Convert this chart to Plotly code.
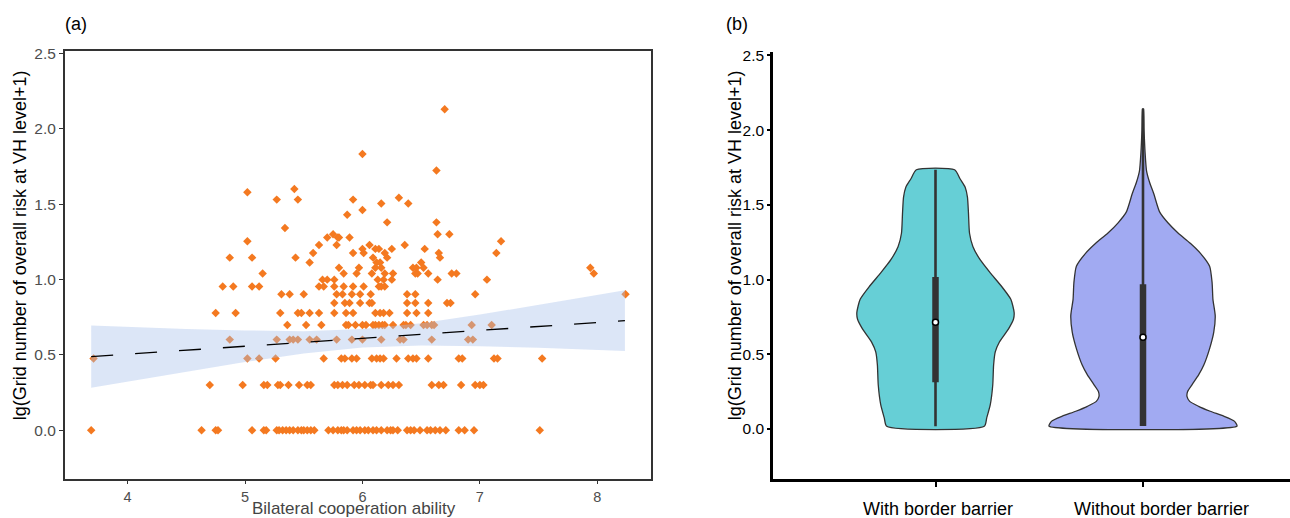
import plotly.graph_objects as go

# ---------------- Panel (a): scatter data (lg levels and abilities at each level)
risk_levels = [0.0, 0.301, 0.477, 0.602, 0.699, 0.778, 0.845, 0.903, 0.954, 1.0,
               1.041, 1.079, 1.114, 1.146, 1.176, 1.204, 1.230, 1.255, 1.279, 1.301,
               1.342, 1.380, 1.431, 1.462, 1.505, 1.531, 1.544, 1.580, 1.602, 1.724,
               1.833, 2.130]
ability_at_level = [
    [3.69, 4.63, 4.75, 4.77, 5.06, 5.16, 5.18, 5.27, 5.29, 5.32, 5.35, 5.38, 5.41, 5.45,
     5.48, 5.50, 5.53, 5.56, 5.59, 5.71, 5.75, 5.79, 5.82, 5.84, 5.87, 5.92, 5.95, 5.98,
     6.02, 6.05, 6.09, 6.12, 6.16, 6.21, 6.24, 6.26, 6.30, 6.38, 6.41, 6.44, 6.49, 6.55,
     6.58, 6.62, 6.66, 6.71, 6.82, 6.87, 6.95, 7.51],
    [4.70, 4.98, 5.16, 5.19, 5.28, 5.30, 5.37, 5.46, 5.53, 5.56, 5.76, 5.79, 5.83, 5.87,
     5.93, 5.97, 6.02, 6.07, 6.09, 6.16, 6.22, 6.26, 6.31, 6.59, 6.65, 6.69, 6.84, 6.96,
     7.00, 7.03],
    [3.71, 5.02, 5.12, 5.26, 5.67, 5.82, 5.85, 5.91, 5.95, 6.08, 6.12, 6.15, 6.18, 6.29,
     6.39, 6.43, 6.46, 6.56, 6.82, 6.85, 7.12, 7.15, 7.53],
    [4.87, 5.27, 5.38, 5.41, 5.45, 5.55, 5.61, 5.78, 5.91, 6.00, 6.16, 6.32, 6.35, 6.59,
     6.90, 6.94],
    [5.36, 5.52, 5.65, 5.86, 5.88, 5.94, 6.00, 6.03, 6.09, 6.11, 6.14, 6.17, 6.19, 6.26,
     6.35, 6.37, 6.41, 6.52, 6.55, 6.59, 6.61, 6.93, 7.10],
    [4.75, 4.92, 5.30, 5.45, 5.48, 5.55, 5.63, 5.76, 5.86, 5.92, 6.11, 6.15, 6.18, 6.23,
     6.38, 6.46, 6.56],
    [5.76, 5.85, 5.89, 5.98, 6.06, 6.08, 6.38, 6.45, 6.56, 6.72, 6.75],
    [5.31, 5.38, 5.50, 5.78, 5.83, 5.91, 5.98, 6.07, 6.38, 6.45, 6.96, 8.24],
    [4.81, 4.90, 5.06, 5.12, 5.63, 5.67, 5.76, 5.84, 5.92, 6.01, 6.14, 6.16, 6.19],
    [5.66, 5.70, 5.76, 6.13, 6.18, 6.25, 6.64, 7.06],
    [5.15, 5.84, 5.95, 6.08, 6.19, 6.26, 6.45, 6.47, 6.56, 6.76, 6.80, 7.97],
    [5.80, 5.97, 6.11, 6.16, 6.43, 6.46, 6.52, 7.94],
    [5.55, 6.12, 6.15, 6.50],
    [4.87, 5.06, 5.43, 6.09, 6.21, 6.66],
    [5.58, 5.92, 6.01, 6.19, 6.65, 7.14],
    [6.00, 6.11, 6.14, 6.25, 6.53],
    [5.63, 5.78, 6.06, 6.36],
    [5.02, 7.18],
    [5.70, 5.79, 5.80, 5.89],
    [5.75, 6.64, 6.74],
    [5.34],
    [6.21, 6.63],
    [5.87],
    [6.00],
    [6.16, 6.39],
    [5.27, 5.45, 5.92],
    [6.31],
    [5.02],
    [5.42],
    [6.63],
    [6.00],
    [6.70],
]

# Linear fit line and its confidence band
fit_x = [3.69, 8.235]
fit_y = [0.489, 0.728]
band_x = [3.69, 4.0, 4.5, 5.0, 5.5, 6.0, 6.5, 7.0, 7.5, 8.0, 8.235]
band_lo = [0.282, 0.323, 0.389, 0.453, 0.510, 0.550, 0.563, 0.558, 0.548, 0.534, 0.527]
band_hi = [0.696, 0.687, 0.673, 0.663, 0.658, 0.672, 0.711, 0.768, 0.832, 0.898, 0.929]

# ---------------- Panel (b): violin profiles (y, half width in category units)
groups = ["With border barrier", "Without border barrier"]
v1_y = [0.018, 0.075, 0.163, 0.296, 0.428, 0.516, 0.582, 0.670, 0.736, 0.780, 0.868,
        0.957, 1.045, 1.133, 1.222, 1.310, 1.442, 1.552, 1.618, 1.673, 1.735]
v1_w = [0.235, 0.247, 0.264, 0.276, 0.280, 0.288, 0.308, 0.352, 0.376, 0.379, 0.363,
        0.317, 0.264, 0.215, 0.180, 0.164, 0.159, 0.154, 0.143, 0.119, 0.092]
v2_y = [0.020, 0.053, 0.086, 0.119, 0.152, 0.185, 0.218, 0.251, 0.296, 0.362, 0.428,
        0.538, 0.648, 0.759, 0.868, 0.979, 1.089, 1.177, 1.243, 1.310, 1.380, 1.453,
        1.574, 1.650, 1.728, 1.850, 2.000, 2.143]
v2_w = [0.453, 0.440, 0.389, 0.324, 0.268, 0.225, 0.212, 0.215, 0.236, 0.268, 0.293,
        0.321, 0.341, 0.348, 0.337, 0.333, 0.321, 0.276, 0.228, 0.170, 0.120, 0.080,
        0.052, 0.032, 0.017, 0.010, 0.005, 0.0015]
box_q1 = [0.313, 0.020]
box_median = [0.714, 0.615]
box_q3 = [1.018, 0.968]
box_low = [0.018, 0.020]
box_high = [1.735, 2.143]
violin_colors = ["#66CFD6", "#A1AAF2"]

FONT = "Liberation Sans, Arial, sans-serif"
W, H = 1290, 518

fig = go.Figure()

# scatter points
pts_x, pts_y = [], []
for lvl, xs in zip(risk_levels, ability_at_level):
    for xv in xs:
        pts_x.append(xv)
        pts_y.append(lvl)
fig.add_trace(go.Scatter(x=pts_x, y=pts_y, mode="markers",
                         marker=dict(symbol="diamond", size=6.5, color="#F47920",
                                     line=dict(width=0)),
                         xaxis="x", yaxis="y", showlegend=False, hoverinfo="skip"))
# confidence band (drawn over points, semi transparent)
fig.add_trace(go.Scatter(x=band_x + band_x[::-1], y=band_hi + band_lo[::-1],
                         fill="toself", fillcolor="rgba(168,193,235,0.4)",
                         line=dict(width=0), mode="lines",
                         xaxis="x", yaxis="y", showlegend=False, hoverinfo="skip"))
fig.add_trace(go.Scatter(x=fit_x, y=fit_y, mode="lines",
                         line=dict(color="black", width=1.3, dash="22px,22px"),
                         xaxis="x", yaxis="y", showlegend=False, hoverinfo="skip"))

# violins with inner box plots
for i, (vy, vw) in enumerate([(v1_y, v1_w), (v2_y, v2_w)]):
    xs = [i - w for w in vw] + [i + w for w in vw[::-1]]
    ys = vy + vy[::-1]
    fig.add_trace(go.Scatter(x=xs + [xs[0]], y=ys + [ys[0]], mode="lines",
                             fill="toself", fillcolor=violin_colors[i],
                             line=dict(color="#333333", width=1.3, shape="spline",
                                       smoothing=0.6),
                             xaxis="x2", yaxis="y2", showlegend=False,
                             hoverinfo="skip"))
    # whisker
    fig.add_trace(go.Scatter(x=[i, i], y=[box_low[i], box_high[i]], mode="lines",
                             line=dict(color="#333333", width=2.6),
                             xaxis="x2", yaxis="y2", showlegend=False,
                             hoverinfo="skip"))
    # box (IQR)
    fig.add_trace(go.Scatter(x=[i, i], y=[box_q1[i], box_q3[i]], mode="lines",
                             line=dict(color="#333333", width=6.5),
                             xaxis="x2", yaxis="y2", showlegend=False,
                             hoverinfo="skip"))
fig.add_trace(go.Scatter(x=[0, 1], y=box_median, mode="markers",
                         marker=dict(symbol="circle", size=6, color="white",
                                     line=dict(color="black", width=1.5)),
                         xaxis="x2", yaxis="y2", showlegend=False, hoverinfo="skip"))

left_dom = [65 / W, 651 / W]
right_dom = [773 / W, 1.0]
ydom = [1 - 479 / H, 1 - 46 / H]
ydom2 = [1 - 479 / H, 1 - 46.5 / H]

fig.update_layout(
    width=W, height=H,
    margin=dict(l=0, r=0, t=0, b=0),
    paper_bgcolor="white", plot_bgcolor="white",
    font=dict(family=FONT, size=15.5, color="#4d4d4d"),
    showlegend=False,
    xaxis=dict(domain=left_dom, range=[3.467, 8.457], tickvals=[4, 5, 6, 7, 8],
               showgrid=False, zeroline=False, showline=True, mirror=True,
               linecolor="#333333", linewidth=2, ticks="outside", ticklen=3,
               tickwidth=1.2, tickcolor="#333333",
               tickfont=dict(family=FONT, size=14.5, color="#4d4d4d")),
    yaxis=dict(domain=ydom, range=[-0.326, 2.514], tickvals=[0, 0.5, 1, 1.5, 2, 2.5],
               ticktext=["0.0", "0.5", "1.0", "1.5", "2.0", "2.5"],
               showgrid=False, zeroline=False, showline=True, mirror=True,
               linecolor="#333333", linewidth=2, ticks="outside", ticklen=4,
               tickwidth=1.2, tickcolor="#333333",
               tickfont=dict(family=FONT, size=15.5, color="#4d4d4d")),
    xaxis2=dict(domain=right_dom, range=[-0.7831, 1.7084], tickvals=[0, 1],
                showticklabels=False, showgrid=False, zeroline=False, showline=True,
                linecolor="black", linewidth=2.5, ticks="outside", ticklen=5,
                tickwidth=2, tickcolor="black", anchor="y2"),
    yaxis2=dict(domain=ydom2, range=[-0.3373, 2.5231], tickvals=[0, 0.5, 1, 1.5, 2, 2.5],
                ticktext=["0.0", "0.5", "1.0", "1.5", "2.0", "2.5"],
                showgrid=False, zeroline=False, showline=True,
                linecolor="black", linewidth=2.5, ticks="outside", ticklen=3,
                tickwidth=2, tickcolor="black", anchor="x2",
                tickfont=dict(family=FONT, size=15.5, color="black")),
)

ytitle = "lg(Grid number of overall risk at VH level+1)"


def ann(text, x, y, xref="paper", size=18, color="black", angle=0, xshift=0):
    return dict(text=text, x=x, y=y, xref=xref, yref="paper", showarrow=False,
                xanchor="center", yanchor="middle", textangle=angle, xshift=xshift,
                font=dict(family=FONT, size=size, color=color))


annotations = [
    ann("(a)", 76 / W, 1 - 18 / H),
    ann("(b)", 737 / W, 1 - 18 / H),
    ann(ytitle, 20 / W, 1 - 242 / H, angle=-90),
    ann(ytitle, 735 / W, 1 - 242 / H, angle=-90),
    ann("Bilateral cooperation ability", 354 / W, 1 - 508 / H, size=17,
        color="#444444"),
    ann(groups[0], 0, 1 - 509 / H, xref="x2", xshift=2),
    ann(groups[1], 1, 1 - 509 / H, xref="x2", xshift=18),
]
fig.update_layout(annotations=annotations)

fig.write_html("out.html", config={"displayModeBar": False},
               post_script="document.body.style.margin='0';")
